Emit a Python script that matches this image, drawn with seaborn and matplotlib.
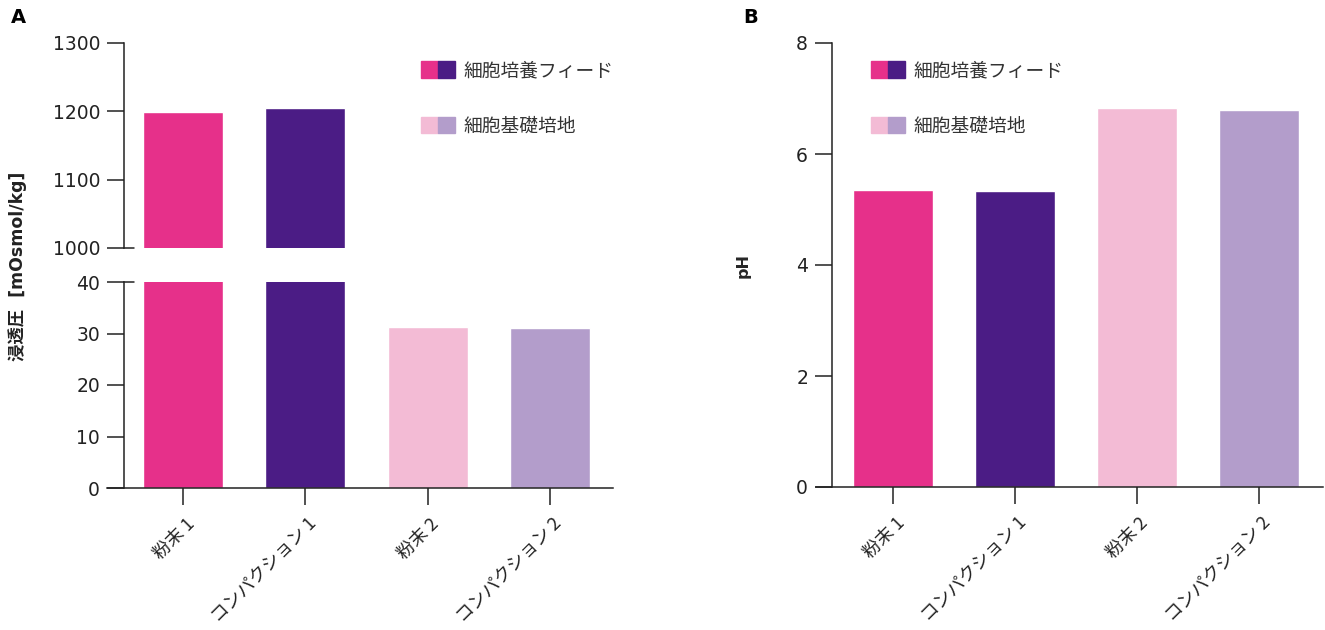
import numpy as np
import pandas as pd
import seaborn as sns
import matplotlib.pyplot as plt
from matplotlib.patches import Patch
from matplotlib.legend_handler import HandlerTuple
from matplotlib.transforms import ScaledTranslation

# ---- data -------------------------------------------------------------
samples = ["粉末 1", "コンパクション 1", "粉末 2", "コンパクション 2"]
osmolality = [1199, 1205, 31.3, 31.1]          # mOsmol/kg
ph_values = [5.35, 5.33, 6.83, 6.80]
bar_colors = ["#E6308A", "#4B1C85", "#F3BBD5", "#B39DCB"]
legend_labels = ["細胞培養フィード", "細胞基礎培地"]
osm_upper_ticks = [1000, 1100, 1200, 1300]
osm_lower_ticks = [0, 10, 20, 30, 40]
ph_ticks = [0, 2, 4, 6, 8]

# ---- style ------------------------------------------------------------
sns.set_theme(style="ticks")
INK = "#222222"
plt.rcParams.update({
    "font.family": ["DejaVu Sans", "Noto Sans CJK JP"],
    "axes.edgecolor": INK,
    "axes.linewidth": 1.1,
    "xtick.color": INK,
    "ytick.color": INK,
    "xtick.major.size": 12.2,
    "ytick.major.size": 12.2,
    "xtick.major.width": 1.1,
    "ytick.major.width": 1.1,
    "xtick.major.pad": 7,
    "ytick.major.pad": 5,
    "text.color": INK,
})
JP = ["Noto Sans CJK JP", "DejaVu Sans"]

W, H = 1325, 630
fig = plt.figure(figsize=(W / 100, H / 100), dpi=100)
fig.patch.set_facecolor("white")


def px_axes(x0, y0, x1, y1):
    """Axes from pixel box (left, top, right, bottom)."""
    return fig.add_axes([x0 / W, 1 - y1 / H, (x1 - x0) / W, (y1 - y0) / H])


def draw_bars(ax, values):
    df = pd.DataFrame({"sample": samples, "value": values})
    sns.barplot(data=df, x="sample", y="value", hue="sample", order=samples,
                hue_order=samples, palette=bar_colors, saturation=1,
                width=0.655, errorbar=None, legend=False, ax=ax)
    ax.set_xlabel("")
    ax.set_ylabel("")


def style_axes(ax, spine_frac, xlim):
    ax.set_xlim(*xlim)
    sns.despine(ax=ax)
    ax.spines["left"].set_position(("axes", spine_frac))
    ax.tick_params(axis="y", labelsize=13.5)
    ax.set_facecolor("none")


def cat_labels(ax):
    ax.set_xticks(range(len(samples)))
    ax.set_xticklabels(samples, rotation=45, ha="right", fontsize=13,
                       family=JP, color=INK)
    shift = ScaledTranslation(15 / 100, 0, fig.dpi_scale_trans)
    for lab in ax.get_xticklabels():
        lab.set_transform(lab.get_transform() + shift)


def add_legend(x_px, y_px):
    handles = [(Patch(color=bar_colors[0]), Patch(color=bar_colors[1])),
               (Patch(color=bar_colors[2]), Patch(color=bar_colors[3]))]
    fig.legend(handles, legend_labels, loc="upper left",
               bbox_to_anchor=(x_px / W, 1 - y_px / H), frameon=False,
               handler_map={tuple: HandlerTuple(ndivide=None, pad=0)},
               prop={"family": JP, "size": 13.5}, labelcolor="#333333",
               handlelength=1.8, handleheight=0.95, handletextpad=0.45,
               labelspacing=1.85, borderpad=0, borderaxespad=0)


# ---- panel A: osmolality with broken y axis ---------------------------
xlim_a = (-0.621, 3.515)
spine_a = 17 / 506
ax_up = px_axes(107, 43, 613, 248)
ax_lo = px_axes(107, 282, 613, 488)
for ax in (ax_up, ax_lo):
    draw_bars(ax, osmolality)
    style_axes(ax, spine_a, xlim_a)

ax_up.set_ylim(1000, 1300)
ax_up.set_yticks(osm_upper_ticks)
ax_up.spines["bottom"].set_visible(False)
ax_up.tick_params(axis="x", bottom=False, labelbottom=False)

ax_lo.set_ylim(0, 40)
ax_lo.set_yticks(osm_lower_ticks)
cat_labels(ax_lo)

# break marks crossing the axis
ax_up.plot([spine_a, spine_a + 10 / 506], [1000, 1000], color=INK, lw=1.1,
           transform=ax_up.get_yaxis_transform(), clip_on=False)
ax_lo.plot([spine_a, spine_a + 10 / 506], [40, 40], color=INK, lw=1.1,
           transform=ax_lo.get_yaxis_transform(), clip_on=False)

fig.text(18 / W, 1 - 266 / H, "浸透圧  [mOsmol/kg]", rotation=90,
         ha="center", va="center", fontsize=12.5, fontweight="bold")
add_legend(421, 60)

# ---- panel B: pH ------------------------------------------------------
ax_b = px_axes(816, 43, 1323, 487)
draw_bars(ax_b, ph_values)
style_axes(ax_b, 16 / 507, (-0.631, 3.525))
ax_b.set_ylim(0, 8)
ax_b.set_yticks(ph_ticks)
cat_labels(ax_b)
ax_b.set_ylabel("pH", fontsize=11.5, fontweight="bold")
ax_b.yaxis.set_label_coords((751 - 816) / 507, 0.5)
add_legend(871, 60)

# ---- panel letters ----------------------------------------------------
fig.text(18.5 / W, 1 - 17.5 / H, "A", ha="center", va="center",
         fontsize=14, fontweight="bold", color="black")
fig.text(751 / W, 1 - 17.5 / H, "B", ha="center", va="center",
         fontsize=14, fontweight="bold", color="black")

fig.savefig("out.png", dpi=100, facecolor="white")
